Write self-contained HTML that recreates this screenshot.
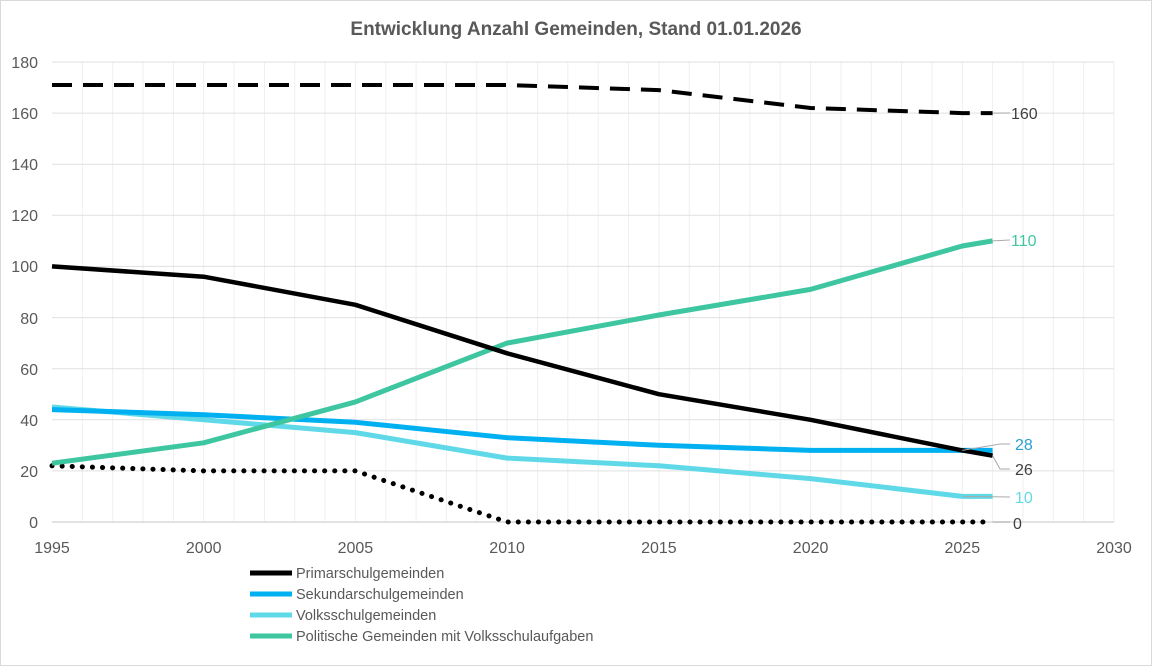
<!DOCTYPE html><html><head><meta charset="utf-8"><style>body{margin:0;background:#fff}svg{display:block;font-family:"Liberation Sans",sans-serif}</style></head><body>
<svg width="1152" height="666" viewBox="0 0 1152 666" xmlns="http://www.w3.org/2000/svg">
<rect x="0.5" y="0.5" width="1151" height="665" fill="#fff" stroke="#d9d9d9"/>
<text x="576" y="35" text-anchor="middle" font-size="19" font-weight="bold" fill="#595959">Entwicklung Anzahl Gemeinden, Stand 01.01.2026</text>
<path d="M82.3 62V522M112.7 62V522M143 62V522M173.4 62V522M203.7 62V522M234.1 62V522M264.4 62V522M294.7 62V522M325.1 62V522M355.4 62V522M385.8 62V522M416.1 62V522M446.5 62V522M476.8 62V522M507.1 62V522M537.5 62V522M567.8 62V522M598.2 62V522M628.5 62V522M658.9 62V522M689.2 62V522M719.5 62V522M749.9 62V522M780.2 62V522M810.6 62V522M840.9 62V522M871.3 62V522M901.6 62V522M932 62V522M962.3 62V522M992.6 62V522M1023 62V522M1053.3 62V522M1083.7 62V522M1114 62V522" stroke="#efefef" stroke-width="1"/>
<path d="M52 470.9H1114M52 419.8H1114M52 368.7H1114M52 317.6H1114M52 266.4H1114M52 215.3H1114M52 164.2H1114M52 113.1H1114M52 62H1114" stroke="#e0e0e0" stroke-width="1"/>
<line x1="52" y1="522" x2="1114" y2="522" stroke="#d9d9d9" stroke-width="1.5"/>
<g font-size="16" fill="#595959" text-anchor="end">
<text x="38" y="528">0</text><text x="38" y="477">20</text><text x="38" y="426">40</text><text x="38" y="375">60</text><text x="38" y="324">80</text><text x="38" y="272">100</text><text x="38" y="221">120</text><text x="38" y="170">140</text><text x="38" y="119">160</text><text x="38" y="68">180</text>
</g>
<g font-size="16" fill="#595959" text-anchor="middle">
<text x="52" y="553">1995</text><text x="203.7" y="553">2000</text><text x="355.4" y="553">2005</text><text x="507.1" y="553">2010</text><text x="658.9" y="553">2015</text><text x="810.6" y="553">2020</text><text x="962.3" y="553">2025</text><text x="1114" y="553">2030</text>
</g>
<g fill="none" stroke-linejoin="round">
<polyline points="52,85 203.7,85 355.4,85 507.1,85 658.9,90.1 810.6,108 962.3,113.1 992.6,113.1" stroke="#000" stroke-width="4" stroke-dasharray="20 11"/>
<polyline points="52,465.8 203.7,470.9 355.4,470.9 507.1,522 658.9,522 810.6,522 962.3,522 992.6,522" stroke="#000" stroke-width="5" stroke-dasharray="0.1 10" stroke-linecap="round"/>
<polyline points="52,407 203.7,419.8 355.4,432.6 507.1,458.1 658.9,465.8 810.6,478.6 962.3,496.4 992.6,496.4" stroke="#5fd9e8" stroke-width="5"/>
<polyline points="52,409.6 203.7,414.7 355.4,422.3 507.1,437.7 658.9,445.3 810.6,450.4 962.3,450.4 992.6,450.4" stroke="#00b0f0" stroke-width="5"/>
<polyline points="52,463.2 203.7,442.8 355.4,401.9 507.1,343.1 658.9,315 810.6,289.4 962.3,246 992.6,240.9" stroke="#3ec6a0" stroke-width="5"/>
<polyline points="52,266.4 203.7,276.7 355.4,304.8 507.1,353.3 658.9,394.2 810.6,419.8 962.3,450.4 992.6,455.6" stroke="#000" stroke-width="4.5"/>
</g>
<g fill="none" stroke="#aaa" stroke-width="1">
<polyline points="992.6,113.1 1010,113"/>
<polyline points="992.6,240.9 1010,240"/>
<polyline points="962.3,450.4 1000,444 1010,444"/>
<polyline points="992.6,455.6 1000,469 1010,469"/>
<polyline points="962.3,496.4 1010,497"/>
<polyline points="992.6,522 1010,522"/>
</g>
<g font-size="16">
<text x="1011" y="119" fill="#404040">160</text>
<text x="1011" y="246" fill="#3ec6a0">110</text>
<text x="1015" y="450" fill="#2a9fd0">28</text>
<text x="1015" y="475" fill="#404040">26</text>
<text x="1015" y="503" fill="#5fd9e8">10</text>
<text x="1013" y="529" fill="#404040">0</text>
</g>
<g font-size="14.5" fill="#595959">
<line x1="250" y1="573" x2="292" y2="573" stroke="#000" stroke-width="5"/><text x="296" y="578">Primarschulgemeinden</text>
<line x1="250" y1="594" x2="292" y2="594" stroke="#00b0f0" stroke-width="5"/><text x="296" y="599">Sekundarschulgemeinden</text>
<line x1="250" y1="615" x2="292" y2="615" stroke="#5fd9e8" stroke-width="5"/><text x="296" y="620">Volksschulgemeinden</text>
<line x1="250" y1="636" x2="292" y2="636" stroke="#3ec6a0" stroke-width="5"/><text x="296" y="641">Politische Gemeinden mit Volksschulaufgaben</text>
</g>
</svg></body></html>
